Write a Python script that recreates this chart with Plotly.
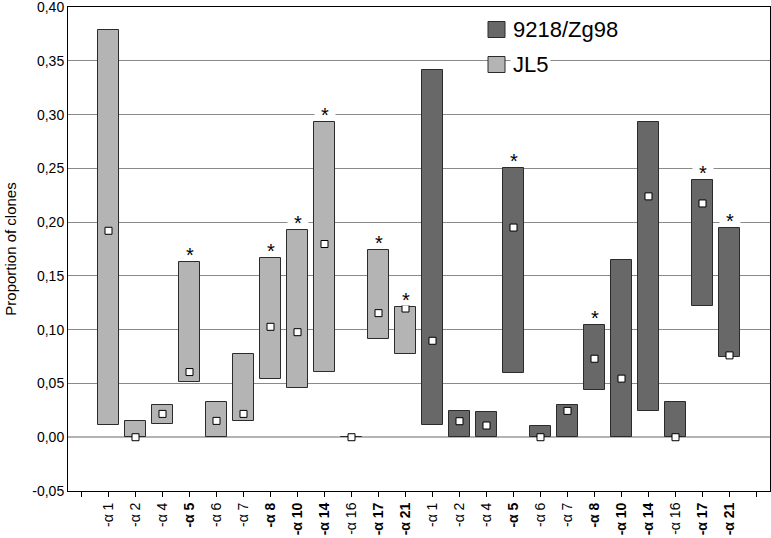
import plotly.graph_objects as go

labels = ["-α 1", "-α 2", "-α 4", "-α 5", "-α 6", "-α 7", "-α 8",
          "-α 10", "-α 14", "-α 16", "-α 17", "-α 21"]
bold_labels = [False, False, False, True, False, False, True, True, True, False, True, True]

jl5_low = [0.011, 0.000, 0.0127, 0.0514, 0.000, 0.0152, 0.0545, 0.0455, 0.0606, 0.000, 0.0912, 0.077]
jl5_high = [0.379, 0.015, 0.030, 0.163, 0.0325, 0.077, 0.1667, 0.1924, 0.2935, 0.000, 0.174, 0.1212]
jl5_mid = [0.192, 0.000, 0.0217, 0.0606, 0.0152, 0.0217, 0.1027, 0.0977, 0.1797, 0.000, 0.1154, 0.1197]
jl5_sig = [False, False, False, True, False, False, True, True, True, False, True, True]

zg_low = [0.011, 0.0, 0.0, 0.0597, 0.0, 0.0, 0.0437, 0.0, 0.0245, 0.0, 0.1222, 0.0746]
zg_high = [0.3417, 0.0245, 0.0236, 0.250, 0.0109, 0.0297, 0.1043, 0.1645, 0.2935, 0.0325, 0.2388, 0.195]
zg_mid = [0.0897, 0.0149, 0.0109, 0.195, 0.000, 0.0245, 0.073, 0.0545, 0.224, 0.000, 0.2174, 0.0761]
zg_sig = [False, False, False, True, False, False, True, False, False, False, True, True]

series_names = ["9218/Zg98", "JL5"]
y_ticks = [-0.05, 0.0, 0.05, 0.10, 0.15, 0.20, 0.25, 0.30, 0.35, 0.40]
y_ticktext = ["-0,05", "0,00", "0,05", "0,10", "0,15", "0,20", "0,25", "0,30", "0,35", "0,40"]

LIGHT = "#b4b4b4"
DARK = "#686868"
EDGE = "#2b2b2b"
FONT = "Liberation Sans, Arial"

n = len(labels)
x_jl5 = list(range(n))
x_zg = list(range(n, 2 * n))

fig = go.Figure()
fig.add_trace(go.Bar(
    x=x_jl5, y=[h - l for h, l in zip(jl5_high, jl5_low)], base=jl5_low,
    width=0.8, marker=dict(color=LIGHT, line=dict(color=EDGE, width=1)),
    showlegend=False, name=series_names[1]))
fig.add_trace(go.Bar(
    x=x_zg, y=[h - l for h, l in zip(zg_high, zg_low)], base=zg_low,
    width=0.8, marker=dict(color=DARK, line=dict(color=EDGE, width=1)),
    showlegend=False, name=series_names[0]))
fig.add_trace(go.Scatter(
    x=x_jl5 + x_zg, y=jl5_mid + zg_mid, mode="markers",
    marker=dict(symbol="square", size=7, color="white", line=dict(color="black", width=1)),
    showlegend=False, cliponaxis=False))

annotations = []
for xs, highs, sigs in [(x_jl5, jl5_high, jl5_sig), (x_zg, zg_high, zg_sig)]:
    for xi, h, s in zip(xs, highs, sigs):
        if s:
            annotations.append(dict(
                x=xi, y=h, xref="x", yref="y", text="*", showarrow=False,
                yanchor="bottom", yshift=1, width=20, height=16, valign="top",
                font=dict(size=20, color="black", family=FONT),
                bgcolor="white", borderpad=0))

ticktext = [("<b>%s</b>" % t if b else t) for t, b in zip(labels, bold_labels)] * 2
tickvals = list(range(-1, 2 * n + 1))
ticktext_full = [""] + ticktext + [""]

plot_top, plot_bot, plot_l, plot_r = 7, 491, 68, 770
def px_x(p):
    return (p - plot_l) / (plot_r - plot_l)
def px_y(p):
    return (plot_bot - p) / (plot_bot - plot_top)

shapes = []
leg_rows = [(series_names[0], DARK, 29.5), (series_names[1], LIGHT, 64.5)]
for name, col, yc in leg_rows:
    annotations.append(dict(
        x=px_x(510), y=px_y(yc), xref="paper", yref="paper", text=name,
        showarrow=False, xanchor="left", yanchor="middle",
        font=dict(size=22, color="black", family=FONT),
        bgcolor="white", borderpad=2))
    shapes.append(dict(
        type="rect", xref="paper", yref="paper",
        x0=px_x(488), x1=px_x(505), y0=px_y(yc + 8), y1=px_y(yc - 8),
        fillcolor=col, line=dict(color=EDGE, width=1), layer="above"))

fig.update_layout(
    width=771, height=538,
    margin=dict(l=plot_l, r=771 - plot_r, t=plot_top, b=538 - plot_bot),
    plot_bgcolor="white", paper_bgcolor="white",
    font=dict(family=FONT, color="black", size=14),
    barmode="overlay", bargap=0,
    annotations=annotations, shapes=shapes,
    xaxis=dict(
        range=[-1.5, 2 * n + 0.5], tickmode="array",
        tickvals=tickvals, ticktext=ticktext_full, tickangle=-90,
        ticks="outside", ticklen=5, tickcolor="black",
        showline=True, linecolor="black", linewidth=1, mirror=True,
        showgrid=False, zeroline=False, tickfont=dict(size=14),
        automargin=False),
    xaxis2=dict(
        overlaying="x", side="top", range=[-1.5, 2 * n + 0.5],
        tickmode="array", tickvals=tickvals,
        ticks="inside", ticklen=5, tickcolor="black",
        showticklabels=False, showgrid=False, zeroline=False, showline=False,
        automargin=False),
    yaxis=dict(
        range=[-0.05, 0.4001], tickmode="array", tickvals=y_ticks, ticktext=y_ticktext,
        showline=True, linecolor="black", linewidth=1, mirror=True,
        showgrid=True, gridcolor="#8a8a8a", gridwidth=1,
        zeroline=True, zerolinecolor="#b4b4b4", zerolinewidth=2,
        ticks="", tickfont=dict(size=14), automargin=False,
        ticklabeloverflow="allow",
        title=dict(text="Proportion of clones", font=dict(size=15), standoff=12)),
)

fig.write_html("out.html", config={"displayModeBar": False},
               post_script="document.body.style.margin='0';document.body.style.overflow='hidden';")
